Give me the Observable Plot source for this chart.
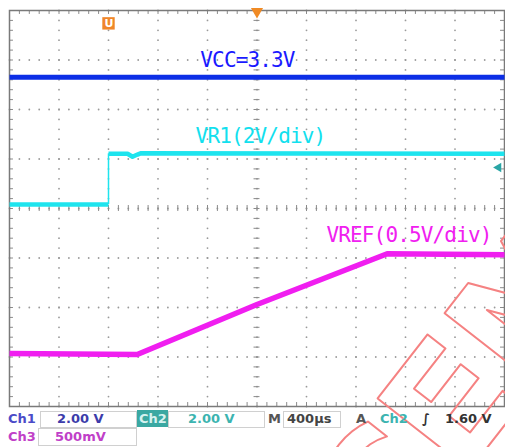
<!DOCTYPE html>
<html><head><meta charset="utf-8">
<script src="https://cdn.jsdelivr.net/npm/d3@7"></script>
<script src="https://cdn.jsdelivr.net/npm/@observablehq/plot@0.6"></script>
<style>
html,body{margin:0;padding:0;background:#fff;}
#wrap{position:relative;width:505px;height:447px;overflow:hidden;}
#wrap svg{position:absolute;left:0;top:0;}
.sb{position:absolute;font-family:"DejaVu Sans",sans-serif;font-weight:bold;font-size:13px;line-height:13px;white-space:nowrap;}
.box{position:absolute;border:1px solid #d0d0d0;box-sizing:border-box;}
</style></head><body><div id="wrap"></div>
<script>
// ---- scope settings (time in µs, vertical in divisions) ----
const timeDomain = [-2000, 2000];   // 400 µs/div, 10 divisions
const divDomain = [-4, 4];          // 8 vertical divisions

const vccT = [-2000, 2000];
const vccY = [2.65, 2.65];
const vr1LowT = [-2000, -1200];
const vr1LowY = [0.08, 0.08];
const vr1HighT = [-1200, -1046, -1006, -966, -941, 2000];
const vr1HighY = [1.105, 1.105, 1.045, 1.09, 1.115, 1.105];
const vrefT = [-2000, -968, 0, 1052, 2000];
const vrefY = [-2.93, -2.95, -1.94, -0.915, -0.935];

// ---- trace labels ----
const labelText = ["VCC=3.3V", "VR1(2V/div)", "VREF(0.5V/div)"];
const labelT = [-77, 28, 1228];
const labelY = [2.99, 1.455, -0.545];
const labelColor = ["#1a1aff", "#12e0ee", "#f020f0"];

// ---- status bar ----
const ch1Scale = "2.00 V", ch2Scale = "2.00 V", ch3Scale = "500mV";
const timebase = "400µs", trigSource = "Ch2", trigLevel = "1.60 V";

// ---- markers ----
const trigPosT = -1200, trigLevelDiv = 0.83;
const watermark = "CEM";

const pts = (T, Y) => T.map((t, i) => ({t, v: Y[i]}));
const vcc = pts(vccT, vccY), vr1Low = pts(vr1LowT, vr1LowY), vr1High = pts(vr1HighT, vr1HighY), vref = pts(vrefT, vrefY);
const labels = labelText.map((s, i) => ({s, t: labelT[i], v: labelY[i], c: labelColor[i]}));

// graticule structure
const xDiv = d3.range(-2000, 2001, 400);
const yDiv = d3.range(-4, 4.001, 1);
const xSub = d3.range(-2000, 2000.1, 80);
const ySub = d3.range(-4, 4.001, 0.2).map(d => +d.toFixed(2));
const dots = [];
for (const x of xDiv.slice(1, -1)) for (const y of ySub) dots.push({t: x, v: y});
for (const y of yDiv.slice(1, -1)) for (const x of xSub) dots.push({t: x, v: y});
const tkX = 24, tkY = 0.06, eX = 32, eY = 0.08;

const plot = Plot.plot({
  width: 505, height: 447,
  marginLeft: 9, marginRight: 1, marginTop: 10, marginBottom: 41,
  x: {domain: timeDomain, axis: null},
  y: {domain: divDomain, axis: null},
  style: {background: "transparent", letterSpacing: "-0.85px", overflow: "visible"},
  marks: [
    Plot.dot(dots, {x: "t", y: "v", r: 0.9, fill: "#9a9a9a", stroke: null}),
    // center cross ticks
    Plot.ruleX(xSub, {x: d => d, y1: -tkY, y2: tkY, stroke: "#8a8a8a", strokeWidth: 1}),
    Plot.ruleY(ySub, {y: d => d, x1: -tkX, x2: tkX, stroke: "#8a8a8a", strokeWidth: 1}),
    // edge ticks
    Plot.ruleX(xSub, {x: d => d, y1: -4, y2: -4 + eY, stroke: "#8a8a8a"}),
    Plot.ruleX(xSub, {x: d => d, y1: 4 - eY, y2: 4, stroke: "#8a8a8a"}),
    Plot.ruleY(ySub, {y: d => d, x1: -2000, x2: -2000 + eX, stroke: "#8a8a8a"}),
    Plot.ruleY(ySub, {y: d => d, x1: 2000 - eX, x2: 2000, stroke: "#8a8a8a"}),
    Plot.frame({stroke: "#7a7a7a", strokeWidth: 1.5}),
    // traces
    Plot.line(vcc, {x: "t", y: "v", stroke: "#0c2ee6", strokeWidth: 5, strokeLinecap: "butt"}),
    Plot.line(vr1Low, {x: "t", y: "v", stroke: "#1ee4ee", strokeWidth: 4.5, strokeLinecap: "butt"}),
    Plot.ruleX([trigPosT], {x: d => d, y1: vr1LowY[1], y2: vr1HighY[0], stroke: "#1ee4ee", strokeWidth: 1.5}),
    Plot.line(vr1High, {x: "t", y: "v", stroke: "#1ee4ee", strokeWidth: 4.5, strokeLinecap: "butt"}),
    Plot.line(vref, {x: "t", y: "v", stroke: "#f01ef0", strokeWidth: 5.5, strokeLinecap: "butt"}),
    // labels
    Plot.text(labels, {x: "t", y: "v", text: "s", fill: "c", fontSize: 21, fontFamily: "DejaVu Sans Mono", textAnchor: "middle", lineAnchor: "middle"}),
    // markers
    Plot.dot([0], {x: d => d, y: 4, symbol: "triangle", rotate: 180, r: 4.5, dy: 1, fill: "#f08a24", stroke: null}),
    Plot.dot([trigPosT], {x: d => d, y: 3.74, symbol: "square", r: 7, fill: "#f0862a", stroke: null}),
    Plot.text([trigPosT], {x: d => d, y: 3.74, text: () => "U", fill: "white", fontSize: 11, fontWeight: "bold", fontFamily: "DejaVu Sans"}),
    Plot.dot([trigLevelDiv], {x: 1952, y: d => d, symbol: "triangle", rotate: -90, r: 3.5, fill: "#2aa6a6", stroke: null}),
    // watermark
    Plot.text([watermark], {x: 1693, y: -3.69, text: d => d, rotate: -52, fontSize: 160, fontWeight: "bold", fontFamily: "DejaVu Sans", fill: "none", stroke: "#f58282", strokeWidth: 2, textAnchor: "middle", lineAnchor: "middle"})
  ]
});
const wrap = document.getElementById("wrap");
wrap.appendChild(plot);

const items = [
  ["box", 40, 411, 97, 17],
  ["box", 168, 411, 97, 17],
  ["box", 283, 411, 58, 17],
  ["box", 38, 428, 99, 18],
  ["bg", 137, 410, 31, 17, "#3aa8a2"],
  ["t", 8, 412, "Ch1", "#4b4bc8"],
  ["t", 57, 412, ch1Scale, "#3c3caa"],
  ["t", 139, 412, "Ch2", "#d6f2f0"],
  ["t", 188, 412, ch2Scale, "#3cb4b0"],
  ["t", 268, 412, "M", "#555"],
  ["t", 287, 412, timebase, "#444"],
  ["t", 356, 412, "A", "#555"],
  ["t", 380, 412, trigSource, "#3cb4b0"],
  ["t", 422, 412, "∫", "#333"],
  ["t", 445, 412, trigLevel, "#333"],
  ["t", 8, 430, "Ch3", "#c040c8"],
  ["t", 55, 430, ch3Scale, "#c040c8"]
];
for (const it of items) {
  const d = document.createElement("div");
  if (it[0] === "box") { d.className = "box"; Object.assign(d.style, {left: it[1]+"px", top: it[2]+"px", width: it[3]+"px", height: it[4]+"px"}); }
  else if (it[0] === "bg") { d.className = "box"; Object.assign(d.style, {left: it[1]+"px", top: it[2]+"px", width: it[3]+"px", height: it[4]+"px", background: it[5], border: "none"}); }
  else { d.className = "sb"; d.textContent = it[3]; Object.assign(d.style, {left: it[1]+"px", top: it[2]+"px", color: it[4]}); }
  wrap.appendChild(d);
}
</script></body></html>
